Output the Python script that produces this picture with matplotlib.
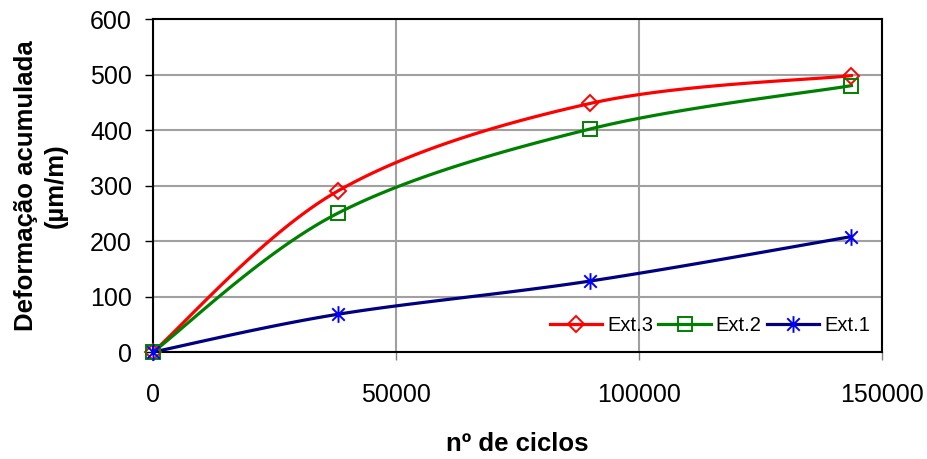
import numpy as np
import matplotlib
matplotlib.use('Agg')
import matplotlib.pyplot as plt
from matplotlib.path import Path

plt.rcParams['font.family'] = ['Liberation Sans', 'DejaVu Sans']

ciclos = [0, 38000, 90000, 143700]
ext3 = [0, 290, 448, 498]
ext2 = [0, 250, 402, 480]
ext1 = [0, 68, 128, 208]

# asterisco tipo Excel (vertical + X)
star = Path([(0, -1), (0, 1), (-0.75, -0.75), (0.75, 0.75), (-0.75, 0.75), (0.75, -0.75)],
            [Path.MOVETO, Path.LINETO, Path.MOVETO, Path.LINETO, Path.MOVETO, Path.LINETO])


def smooth(x, y, n=40):
    # suavizado bezier como no Excel
    p = np.column_stack([x, y]).astype(float)
    pts = [p[0]]
    for i in range(len(p) - 1):
        p0 = p[i - 1] if i > 0 else p[i]
        p3 = p[i + 2] if i + 2 < len(p) else p[i + 1]
        c1 = p[i] + (p[i + 1] - p0) / 6
        c2 = p[i + 1] - (p3 - p[i]) / 6
        t = np.linspace(0, 1, n)[1:, None]
        seg = ((1 - t) ** 3) * p[i] + 3 * ((1 - t) ** 2) * t * c1 + 3 * (1 - t) * t ** 2 * c2 + t ** 3 * p[i + 1]
        pts.extend(seg)
    pts = np.array(pts)
    return pts[:, 0], pts[:, 1]


fig = plt.figure(figsize=(9.27, 4.59), dpi=100)
ax = fig.add_axes([0.165, 0.233, 0.7865, 0.7256])

series = [
    ('Ext.3', ext3, '#FF0000', '#FF0000', 'D', 8),
    ('Ext.2', ext2, '#008000', '#008000', 's', 10),
    ('Ext.1', ext1, '#000080', '#0000FF', star, 12),
]
handles = []
for name, vals, lc, mc, mk, ms in series:
    sx, sy = smooth(ciclos, vals)
    ax.plot(sx, sy, color=lc, lw=2.3, zorder=3, clip_on=False)
    ax.plot(ciclos, vals, ls='none', marker=mk, ms=ms, mfc='none', mec=mc, mew=1.4,
            zorder=4, clip_on=False)
    h, = ax.plot([], [], color=lc, lw=2.3, marker=mk, ms=ms, mfc='none', mec=mc, mew=1.4)
    h.set_label(name)
    handles.append(h)

ax.set_xlim(0, 150000)
ax.set_ylim(0, 600)
ax.set_xticks([0, 50000, 100000, 150000])
ax.set_yticks(range(0, 601, 100))
ax.grid(True, color='#A0A0A0', lw=1.5)
ax.set_axisbelow(True)
for s in ax.spines.values():
    s.set_color('black')
    s.set_linewidth(1.5)
ax.tick_params(axis='y', labelsize=18, length=6, width=1, pad=9, color='black')
ax.tick_params(axis='x', labelsize=18, length=6, width=1, pad=16, color='#808080')

ax.set_xlabel('nº de ciclos', fontsize=18.5, fontweight='bold', labelpad=18)
ax.set_ylabel('Deformação acumulada\n(µm/m)', fontsize=18.5, fontweight='bold', labelpad=16,
              linespacing=1.3)

ax.legend(handles=handles, loc='lower right', ncol=3, frameon=False, fontsize=14.5,
          handlelength=2.6, columnspacing=0.25, handletextpad=0.25,
          bbox_to_anchor=(1.0, 0.015), borderaxespad=0.2)

fig.savefig('out.png', dpi=100)
